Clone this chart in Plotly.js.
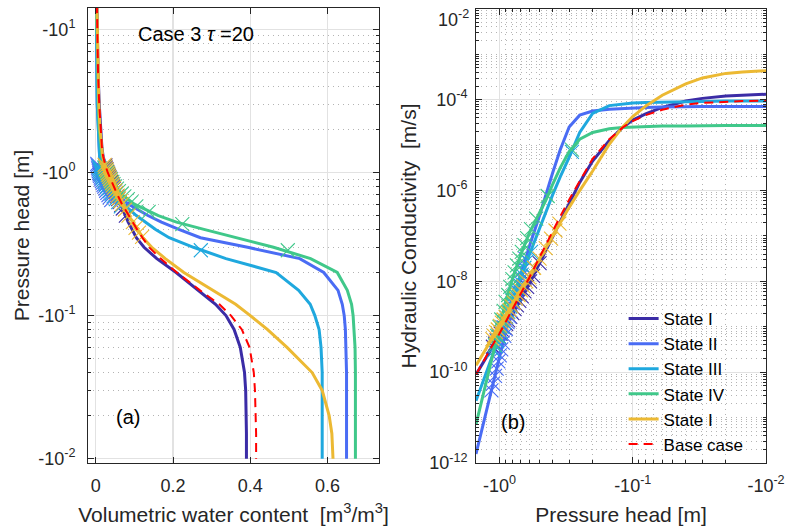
<!DOCTYPE html>
<html>
<head>
<meta charset="utf-8">
<script src="https://cdn.plot.ly/plotly-3.0.1.min.js"></script>
<style>
  html, body { margin: 0; padding: 0; background: #ffffff; }
  #chart { width: 786px; height: 531px; }
</style>
</head>
<body>
<div id="chart"></div>
<script>
// ---------------- DATA ----------------
const seriesNames = ['State I', 'State II', 'State III', 'State IV', 'State I', 'Base case'];
const seriesColors = ['#3b2ca6', '#4a6cf4', '#1fa8de', '#40c88a', '#ecb933', '#ff0000'];

// (a) water retention: |pressure head| [m] and volumetric water content
const hTheta = [15, 10, 7, 5, 3, 2, 1.5, 1.3, 1.2, 1.1, 1.0, 0.9, 0.8, 0.7, 0.6, 0.5, 0.45, 0.4, 0.35, 0.3, 0.25, 0.2, 0.15, 0.12, 0.1, 0.08, 0.06, 0.04, 0.03, 0.02, 0.015, 0.01];
const thetaS1 = [0.003, 0.004, 0.005, 0.006, 0.009, 0.012, 0.016, 0.019, 0.022, 0.026, 0.030, 0.036, 0.044, 0.053, 0.063, 0.076, 0.084, 0.094, 0.105, 0.125, 0.158, 0.208, 0.265, 0.310, 0.337, 0.358, 0.374, 0.385, 0.388, 0.390, 0.390, 0.390];
const thetaS2 = [0.002, 0.002, 0.003, 0.003, 0.004, 0.006, 0.008, 0.010, 0.012, 0.015, 0.019, 0.026, 0.037, 0.055, 0.085, 0.135, 0.170, 0.215, 0.271, 0.393, 0.528, 0.590, 0.627, 0.638, 0.643, 0.646, 0.648, 0.649, 0.649, 0.649, 0.649, 0.649];
const thetaS3 = [0.002, 0.002, 0.003, 0.003, 0.004, 0.006, 0.008, 0.010, 0.012, 0.014, 0.018, 0.025, 0.035, 0.050, 0.072, 0.105, 0.128, 0.155, 0.190, 0.253, 0.337, 0.467, 0.525, 0.555, 0.567, 0.578, 0.583, 0.586, 0.586, 0.586, 0.586, 0.586];
const thetaS4 = [0.002, 0.003, 0.004, 0.005, 0.007, 0.009, 0.013, 0.016, 0.019, 0.023, 0.029, 0.037, 0.048, 0.068, 0.100, 0.162, 0.209, 0.280, 0.365, 0.460, 0.556, 0.625, 0.651, 0.662, 0.666, 0.669, 0.671, 0.672, 0.672, 0.672, 0.672, 0.672];
const thetaS5 = [0.003, 0.004, 0.005, 0.006, 0.008, 0.011, 0.015, 0.018, 0.021, 0.025, 0.030, 0.036, 0.044, 0.055, 0.068, 0.085, 0.096, 0.107, 0.122, 0.145, 0.180, 0.228, 0.303, 0.362, 0.400, 0.444, 0.495, 0.560, 0.586, 0.604, 0.611, 0.614];
const thetaBase = [0.003, 0.004, 0.005, 0.006, 0.009, 0.012, 0.016, 0.019, 0.022, 0.026, 0.031, 0.038, 0.046, 0.056, 0.068, 0.085, 0.095, 0.107, 0.121, 0.138, 0.168, 0.210, 0.270, 0.320, 0.350, 0.378, 0.398, 0.409, 0.412, 0.414, 0.415, 0.415];

// (b) hydraulic conductivity: |pressure head| [m] and log10 K [m/s]
const hK = [1.5, 1.3, 1.2, 1.1, 1.0, 0.9, 0.8, 0.7, 0.6, 0.5, 0.45, 0.4, 0.35, 0.3, 0.25, 0.2, 0.15, 0.12, 0.1, 0.08, 0.06, 0.04, 0.03, 0.02, 0.015, 0.01];
const log10K_S1 = [-10.05, -9.75, -9.58, -9.40, -9.20, -8.97, -8.70, -8.40, -8.05, -7.60, -7.33, -7.03, -6.68, -6.28, -5.82, -5.35, -4.90, -4.62, -4.45, -4.31, -4.17, -4.03, -3.97, -3.92, -3.90, -3.88];
const log10K_S2 = [-11.80, -11.05, -10.63, -10.17, -9.65, -9.07, -8.50, -7.90, -7.25, -6.55, -6.10, -5.62, -5.10, -4.60, -4.34, -4.25, -4.21, -4.19, -4.18, -4.17, -4.16, -4.15, -4.15, -4.15, -4.15, -4.15];
const log10K_S3 = [-10.63, -10.12, -9.84, -9.53, -9.20, -8.83, -8.42, -7.96, -7.43, -6.82, -6.47, -6.10, -5.70, -5.27, -4.72, -4.30, -4.13, -4.09, -4.07, -4.06, -4.05, -4.04, -4.04, -4.03, -4.03, -4.03];
const log10K_S4 = [-11.15, -10.40, -9.98, -9.50, -9.00, -8.45, -7.95, -7.45, -6.95, -6.50, -6.22, -5.87, -5.50, -5.14, -4.87, -4.72, -4.64, -4.61, -4.60, -4.59, -4.58, -4.58, -4.57, -4.57, -4.57, -4.57];
const log10K_S5 = [-9.85, -9.55, -9.38, -9.20, -9.00, -8.78, -8.53, -8.24, -7.91, -7.50, -7.27, -7.00, -6.70, -6.37, -6.00, -5.57, -4.98, -4.61, -4.37, -4.14, -3.90, -3.65, -3.52, -3.42, -3.39, -3.36];
const log10K_Base = [-10.05, -9.72, -9.54, -9.35, -9.15, -8.90, -8.62, -8.30, -7.93, -7.47, -7.20, -6.90, -6.57, -6.20, -5.78, -5.30, -4.87, -4.62, -4.47, -4.34, -4.22, -4.11, -4.07, -4.04, -4.03, -4.02];

// cross markers (data points) per state: |h|, theta, log10 K
const crossH_S1 = [1.12, 1.08, 1.05, 1.01, 0.98, 0.95, 0.92, 0.89, 0.86, 0.83, 0.80, 0.77, 0.74, 0.71, 0.68, 0.65, 0.62, 0.59, 0.56, 0.50];
const crossTheta_S1 = [0.025, 0.026, 0.028, 0.030, 0.032, 0.034, 0.036, 0.038, 0.040, 0.042, 0.045, 0.047, 0.050, 0.052, 0.055, 0.058, 0.062, 0.066, 0.070, 0.078];
const crossLogK_S1 = [-9.44, -9.37, -9.30, -9.22, -9.15, -9.08, -9.02, -8.94, -8.86, -8.78, -8.70, -8.61, -8.53, -8.43, -8.33, -8.22, -8.12, -8.00, -7.88, -7.60];
const crossH_S2 = [1.15, 1.12, 1.08, 1.05, 1.02, 0.995, 0.97, 0.945, 0.92, 0.895, 0.87, 0.845, 0.82, 0.795, 0.77, 0.745, 0.72, 0.695, 0.67, 0.64];
const crossTheta_S2 = [0.004, 0.005, 0.006, 0.007, 0.008, 0.009, 0.010, 0.011, 0.013, 0.014, 0.016, 0.018, 0.020, 0.022, 0.025, 0.027, 0.030, 0.033, 0.036, 0.040];
const crossLogK_S2 = [-10.40, -10.25, -10.08, -9.92, -9.76, -9.63, -9.50, -9.35, -9.20, -9.05, -8.90, -8.77, -8.65, -8.48, -8.35, -8.20, -8.05, -7.90, -7.75, -7.50];
const crossH_S3 = [1.10, 1.07, 1.04, 1.01, 0.98, 0.95, 0.92, 0.89, 0.86, 0.83, 0.80, 0.77, 0.74, 0.71, 0.68, 0.65, 0.62, 0.58, 0.286];
const crossTheta_S3 = [0.008, 0.010, 0.011, 0.012, 0.014, 0.016, 0.018, 0.020, 0.023, 0.026, 0.029, 0.033, 0.037, 0.041, 0.046, 0.052, 0.058, 0.065, 0.272];
const crossLogK_S3 = [-9.53, -9.43, -9.32, -9.22, -9.12, -9.01, -8.90, -8.79, -8.67, -8.55, -8.42, -8.29, -8.15, -8.00, -7.85, -7.70, -7.55, -7.35, -5.15];
const crossH_S4 = [1.08, 1.04, 1.00, 0.97, 0.93, 0.90, 0.86, 0.83, 0.80, 0.77, 0.74, 0.71, 0.68, 0.65, 0.62, 0.58, 0.53, 0.435, 0.286];
const crossTheta_S4 = [0.022, 0.025, 0.029, 0.032, 0.035, 0.039, 0.043, 0.046, 0.050, 0.055, 0.060, 0.067, 0.074, 0.083, 0.092, 0.105, 0.137, 0.224, 0.497];
const crossLogK_S4 = [-9.40, -9.20, -9.00, -8.84, -8.65, -8.45, -8.30, -8.12, -7.95, -7.80, -7.65, -7.50, -7.35, -7.20, -7.05, -6.85, -6.62, -6.12, -5.10];
const crossH_S5 = [1.13, 1.10, 1.06, 1.03, 0.99, 0.96, 0.93, 0.90, 0.87, 0.84, 0.81, 0.78, 0.75, 0.72, 0.69, 0.66, 0.63, 0.60, 0.55, 0.50, 0.45, 0.41, 0.38, 0.355];
const crossTheta_S5 = [0.023, 0.025, 0.027, 0.029, 0.031, 0.033, 0.035, 0.037, 0.039, 0.042, 0.044, 0.047, 0.050, 0.053, 0.057, 0.060, 0.064, 0.068, 0.076, 0.085, 0.096, 0.103, 0.112, 0.120];
const crossLogK_S5 = [-9.27, -9.20, -9.12, -9.06, -8.98, -8.91, -8.84, -8.78, -8.69, -8.63, -8.55, -8.47, -8.38, -8.30, -8.20, -8.11, -8.00, -7.91, -7.70, -7.50, -7.27, -7.06, -6.88, -6.73];

// tick labels
const thetaTicks = [0, 0.2, 0.4, 0.6];
const thetaTickText = ['0', '0.2', '0.4', '0.6'];
const headTicksA = [0.01, 0.1, 1, 10];
const headTickTextA = ['-10<sup>-2</sup>', '-10<sup>-1</sup>', '-10<sup>0</sup>', '-10<sup>1</sup>'];
const headTicksB = [1, 0.1, 0.01];
const headTickTextB = ['-10<sup>0</sup>', '-10<sup>-1</sup>', '-10<sup>-2</sup>'];
const kTicks = [1e-12, 1e-10, 1e-8, 1e-6, 1e-4, 1e-2];
const kTickText = ['10<sup>-12</sup>', '10<sup>-10</sup>', '10<sup>-8</sup>', '10<sup>-6</sup>', '10<sup>-4</sup>', ''];
const kTopLabel = '10<sup>-2</sup>';   // top label, kept inside the picture as in the reference

// ---------------- BUILD ----------------
const FONT = '"Liberation Sans", Arial, Helvetica, sans-serif';
const thetaSeries = [thetaS1, thetaS2, thetaS3, thetaS4, thetaS5, thetaBase];
const logKSeries = [log10K_S1, log10K_S2, log10K_S3, log10K_S4, log10K_S5, log10K_Base];
const crossH = [crossH_S1, crossH_S2, crossH_S3, crossH_S4, crossH_S5];
const crossTheta = [crossTheta_S1, crossTheta_S2, crossTheta_S3, crossTheta_S4, crossTheta_S5];
const crossLogK = [crossLogK_S1, crossLogK_S2, crossLogK_S3, crossLogK_S4, crossLogK_S5];
const pow10 = a => a.map(v => Math.pow(10, v));

function minorLogVals(lo, hi, skipMajorEvery) {
  const out = [];
  for (let e = lo; e < hi; e++) {
    for (let k = 1; k <= 9; k++) {
      if (k === 1 && (skipMajorEvery === 0 || (e % skipMajorEvery === 0))) continue;
      out.push(k * Math.pow(10, e));
    }
  }
  return out;
}

const traces = [];
for (let i = 0; i < 6; i++) {
  const isBase = i === 5;
  const line = isBase ? {color: seriesColors[i], width: 2, dash: '9px,6px'} : {color: seriesColors[i], width: 3};
  traces.push({
    x: thetaSeries[i], y: hTheta, xaxis: 'x', yaxis: 'y', mode: 'lines',
    line: line, showlegend: false, hoverinfo: 'skip'
  });
  traces.push({
    x: hK, y: pow10(logKSeries[i]), xaxis: 'x2', yaxis: 'y2', mode: 'lines',
    line: line, name: seriesNames[i], showlegend: true
  });
  if (!isBase) {
    const mk = {symbol: 'x-thin', size: 14, line: {width: 1.1, color: seriesColors[i]}};
    traces.push({
      x: crossTheta[i], y: crossH[i], xaxis: 'x', yaxis: 'y', mode: 'markers',
      marker: mk, showlegend: false, hoverinfo: 'skip'
    });
    traces.push({
      x: crossH[i], y: pow10(crossLogK[i]), xaxis: 'x2', yaxis: 'y2', mode: 'markers',
      marker: mk, showlegend: false, hoverinfo: 'skip'
    });
  }
}

const axisCommon = {
  showline: true, linecolor: '#262626', linewidth: 1, mirror: 'allticks',
  ticks: 'inside', ticklen: 6, tickcolor: '#262626', tickwidth: 1,
  tickfont: {size: 18, color: '#262626', family: FONT},
  showgrid: true, gridcolor: '#e2e2e2', gridwidth: 1.2, zeroline: false
};
const minorCommon = {ticks: 'inside', ticklen: 3, tickcolor: '#262626', showgrid: true,
  gridcolor: '#b4b4b4', griddash: '1px,4px', gridwidth: 1, tickmode: 'array'};
const titleFont = {size: 21, color: '#262626', family: FONT};

const layout = {
  width: 786, height: 531,
  margin: {l: 88, r: 20, t: 8, b: 68, pad: 0},
  paper_bgcolor: '#ffffff', plot_bgcolor: '#ffffff',
  font: {family: FONT, color: '#262626'},
  showlegend: true,
  legend: {x: 0.79, y: 0.356, xanchor: 'left', yanchor: 'top', bgcolor: 'rgba(255,255,255,0)',
    borderwidth: 0, font: {size: 17, color: '#000000', family: FONT}, tracegroupgap: 0},
  xaxis: Object.assign({}, axisCommon, {
    domain: [0, 0.4292], anchor: 'y', range: [-0.02, 0.733],
    tickmode: 'array', tickvals: thetaTicks, ticktext: thetaTickText, ticklabelstandoff: 6,
    title: {text: 'Volumetric water content  [m<sup>3</sup>/m<sup>3</sup>]', font: titleFont, standoff: 12}
  }),
  yaxis: Object.assign({}, axisCommon, {
    domain: [0, 1], anchor: 'x', type: 'log', range: [-2.03, 1.149],
    tickmode: 'array', tickvals: headTicksA, ticktext: headTickTextA, ticklabelstandoff: 8,
    minor: Object.assign({}, minorCommon, {tickvals: minorLogVals(-2, 2, 0)}),
    title: {text: 'Pressure head [m]', font: titleFont, standoff: 2}
  }),
  xaxis2: Object.assign({}, axisCommon, {
    domain: [0.5723, 1], anchor: 'y2', type: 'log', range: [0.176, -2],
    tickmode: 'array', tickvals: headTicksB, ticktext: headTickTextB, ticklabelstandoff: 6,
    minor: Object.assign({}, minorCommon, {tickvals: minorLogVals(-2, 1, 0)}),
    title: {text: 'Pressure head [m]', font: titleFont, standoff: 12}
  }),
  yaxis2: Object.assign({}, axisCommon, {
    domain: [0, 0.998], anchor: 'x2', type: 'log', range: [-12, -2],
    tickmode: 'array', tickvals: kTicks, ticktext: kTickText, ticklabelstandoff: 4,
    minor: Object.assign({}, minorCommon, {tickvals: minorLogVals(-12, -2, 2)}),
    title: {text: 'Hydraulic Conductivity  [m/s]', font: titleFont, standoff: 6}
  }),
  annotations: [
    {text: 'Case 3 <i>τ</i> =20', xref: 'x domain', yref: 'y domain', x: 0.371, y: 0.943,
      xanchor: 'center', yanchor: 'middle', showarrow: false, font: {size: 20, color: '#000000', family: FONT}},
    {text: '(a)', xref: 'x domain', yref: 'y domain', x: 0.136, y: 0.101,
      xanchor: 'center', yanchor: 'middle', showarrow: false, font: {size: 20, color: '#000000', family: FONT}},
    {text: '(b)', xref: 'x2 domain', yref: 'y2 domain', x: 0.126, y: 0.09,
      xanchor: 'center', yanchor: 'middle', showarrow: false, font: {size: 20, color: '#000000', family: FONT}},
    {text: kTopLabel, xref: 'x2 domain', yref: 'y2 domain', x: 0, y: 1,
      xanchor: 'right', yanchor: 'top', xshift: -5, yshift: 4, showarrow: false,
      font: {size: 18, color: '#262626', family: FONT}}
  ]
};

Plotly.newPlot('chart', traces, layout, {staticPlot: true, displayModeBar: false});
</script>
</body>
</html>
